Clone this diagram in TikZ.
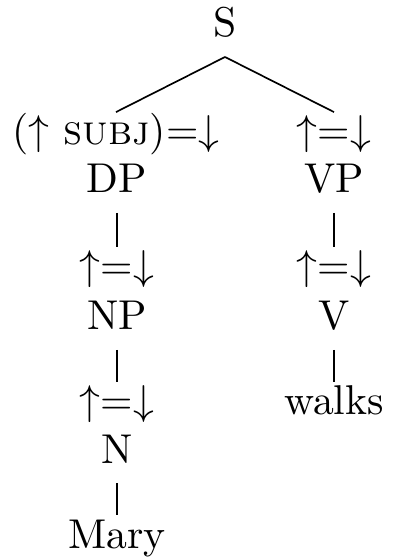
\documentclass[tikz,border=0pt]{standalone}
\usepackage{amsmath,amssymb}
\usepackage{tikz}
\usetikzlibrary{positioning}

\begin{document}
\begin{tikzpicture}[x=0.24pt, y=0.24pt,
  cat/.style={anchor=base, inner sep=0pt, text height=7.7pt, text depth=4.6pt},
  branch/.style={black, line width=0.4pt}]
\useasboundingbox (0,0) rectangle (393,-558);

% Root
\node[cat] (s) at (225,-37) {S};

% Subject branch
\node[cat] (dpf) at (116,-145) {(\(\uparrow\) \textsc{subj})=\(\downarrow\)};
\node[cat] (dp) at (117,-193) {DP};
\node[cat] (npf) at (117,-280) {\(\uparrow\)=\(\downarrow\)};
\node[cat] (np) at (117,-330) {NP};
\node[cat] (nf) at (117,-415) {\(\uparrow\)=\(\downarrow\)};
\node[cat] (n) at (117,-463) {N};
\node[cat] (mary) at (117,-548) {Mary};

% Predicate branch
\node[cat] (vpf) at (334,-145) {\(\uparrow\)=\(\downarrow\)};
\node[cat] (vp) at (334,-193) {VP};
\node[cat] (vf) at (334,-280) {\(\uparrow\)=\(\downarrow\)};
\node[cat] (v) at (334,-330) {V};
\node[cat] (walks) at (334,-415) {walks};

% Branches
\draw[branch] (s.south) -- (dpf.north);
\draw[branch] (s.south) -- (vpf.north);
\draw[branch] (dp.south) -- (npf.north);
\draw[branch] (np.south) -- (nf.north);
\draw[branch] (n.south) -- (mary.north);
\draw[branch] (vp.south) -- (vf.north);
\draw[branch] (v.south) -- (walks.north);
\end{tikzpicture}
\end{document}
